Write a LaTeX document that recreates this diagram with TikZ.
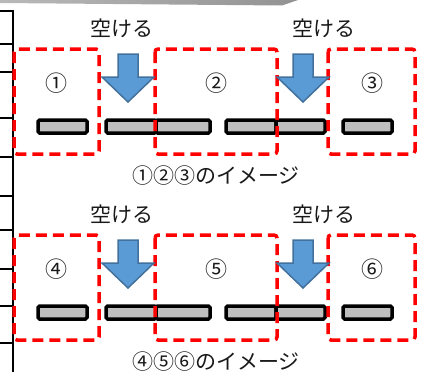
\documentclass[tikz,border=0pt]{standalone}
\usepackage{fontspec}
\newfontfamily\jpfont{Noto Sans CJK JP}
\definecolor{arrfill}{HTML}{5B9BD5}
\definecolor{arrline}{HTML}{41719C}
\definecolor{barfill}{HTML}{BFBFBF}
\begin{document}
\begin{tikzpicture}[x=1pt,y=-1pt,
  lbl/.style={font=\jpfont\fontsize{21}{24}\selectfont, inner sep=0pt, text=black!90},
  num/.style={font=\jpfont\fontsize{22}{24}\selectfont, inner sep=0pt, text=black!90},
  redbox/.style={draw=red, line width=3.5pt, dash pattern=on 11pt off 6pt, rounded corners=3pt},
  barseg/.style={draw=black, fill=barfill, line width=3.5pt, rounded corners=1.5pt},
  blockarrow/.style={fill=arrfill, draw=arrline, line width=1.5pt, line join=miter},
  frame/.style={draw=black, line width=2.5pt}]
\useasboundingbox (0,0) rectangle (428,372);
% top grey band
\shade[left color=gray!55, right color=gray!85] (0,0) -- (0,3) -- (282,5.5) -- (298,0) -- cycle;
% left frame
\draw[frame] (0,11) -- (13,11) -- (13,372);
\foreach \yy in {44,72,118,157,196,230,269,306,343}
  \draw[frame] (0,\yy) -- (13,\yy);

\foreach \row/\dy/\cap in {0/0/{①②③のイメージ},1/186/{④⑤⑥のイメージ}}{
  \begin{scope}[yshift=-\dy pt]
  % bars
  \foreach \xa/\xb [count=\i] in {38/87,106/156,156/210,226/276,276/325,343/392}
    \draw[barseg] (\xa,120) rectangle (\xb,133);
  % dashed boxes
  \draw[redbox] (14,49) rectangle (99,154);
  \draw[redbox] (155,49) rectangle (277,154);
  \draw[redbox] (328,49) rectangle (415,154);
  % arrows
  \foreach \cx in {128,303}
    \draw[blockarrow] (\cx-10,54) -- (\cx+10,54) -- (\cx+10,77) -- (\cx+26,77)
      -- (\cx,102) -- (\cx-26,77) -- (\cx-10,77) -- cycle;
  % texts
  \node[lbl] (open1-\row) at (122,28) {空ける};
  \node[lbl] (open2-\row) at (324,28) {空ける};
  \node[lbl] (cap-\row) at (216,176) {\cap};
  \end{scope}
}
\node[num] (n1) at (56,83) {①};
\node[num] (n2) at (216,83) {②};
\node[num] (n3) at (372,83) {③};
\node[num] (n4) at (56,269) {④};
\node[num] (n5) at (216,269) {⑤};
\node[num] (n6) at (372,269) {⑥};
\end{tikzpicture}
\end{document}
